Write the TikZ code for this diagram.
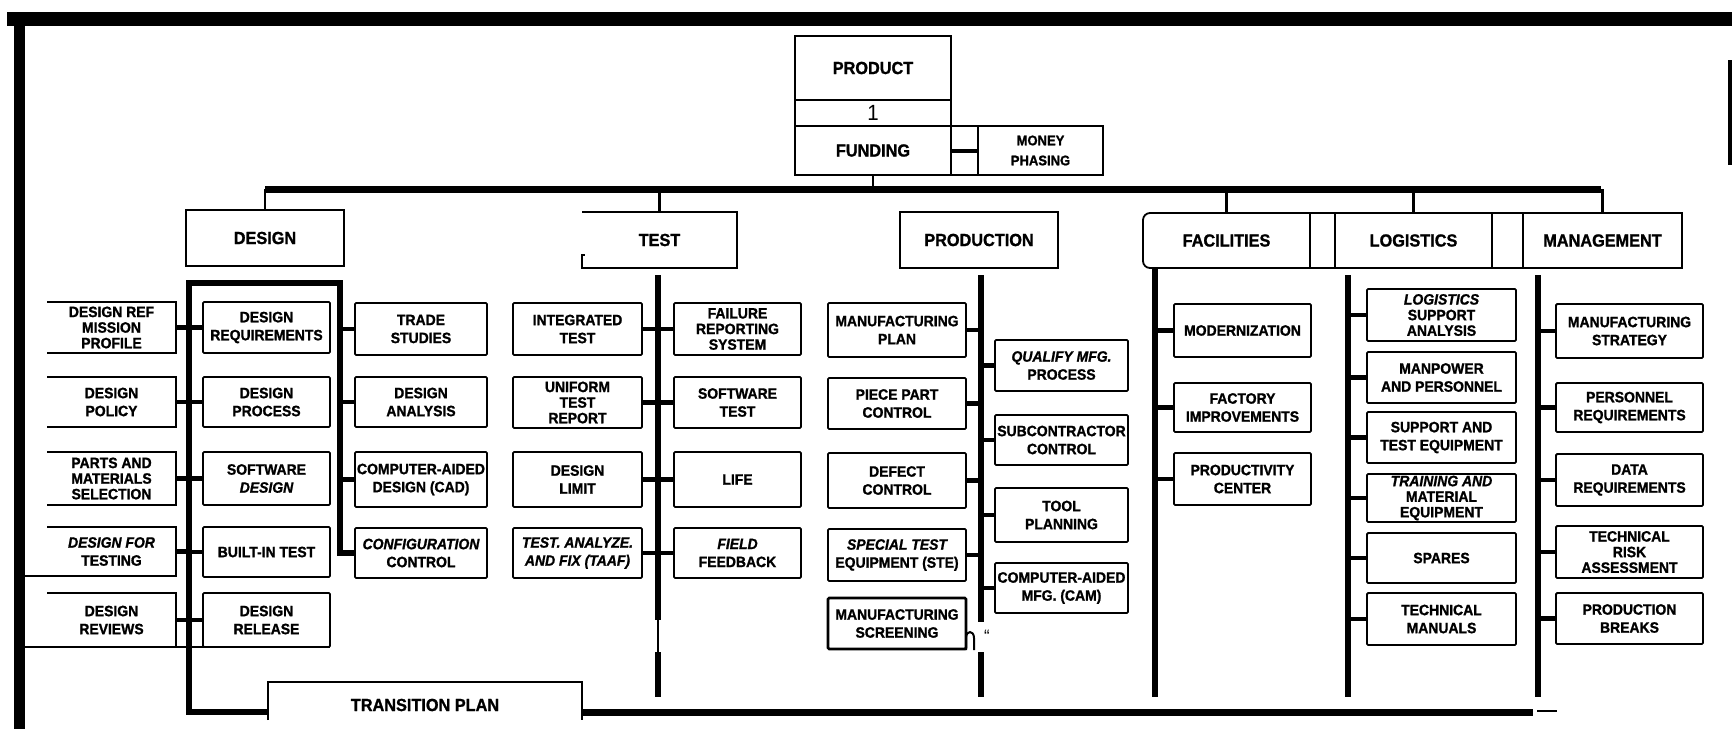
\documentclass[tikz,border=0pt]{standalone}
\usepackage{fontspec}
\setmainfont{Liberation Sans}[FakeStretch=0.93, BoldFeatures={FakeBold=1.2}, BoldItalicFeatures={FakeBold=1.2}]
\tikzset{
  bx/.style={draw, line width=1.8pt, rounded corners=1.2pt, inner sep=0pt, outer sep=0pt,
    align=center, anchor=north west, font=\bfseries\fontsize{15}{18}\selectfont},
  tri/.style={font=\bfseries\fontsize{15}{15.6}\selectfont},
  nodraw/.style={draw=none},
  hd/.style={draw, line width=1.8pt, inner sep=0pt, outer sep=0pt, align=center,
    anchor=north west, font=\bfseries\fontsize{17.5}{20}\selectfont},
  spine/.style={line width=5.5pt},
  conn/.style={line width=4.5pt},
  stub/.style={line width=2.5pt},
  thinln/.style={line width=1.8pt},
  barfill/.style={fill=black, draw=none, inner sep=0pt, outer sep=0pt, anchor=north west},
}
\newcommand\mkbox[7][]{\node[bx,#1,minimum width=#5pt,minimum height=#6pt] (#2) at (#3,#4) {#7};}
\begin{document}
\begin{tikzpicture}[x=1pt,y=-1pt]
\fill[white] (0,0) rectangle (1732,729);
\useasboundingbox (0,0) rectangle (1732,729);

% frame bars
\node[barfill, minimum width=1725pt, minimum height=14pt] (tbar) at (7,12) {};
\node[barfill, minimum width=11pt, minimum height=703pt] (lbar) at (14,26) {};
\node[barfill, minimum width=4pt, minimum height=105pt] (rbar) at (1728,60) {};

% top: product / funding
\node[hd, minimum width=156pt, minimum height=64pt] (prod) at (795,36) {PRODUCT};
\node[hd, minimum width=156pt, minimum height=26pt, font=\fontsize{22}{22}\selectfont] (one) at (795,100) {1};
\node[hd, minimum width=156pt, minimum height=49pt] (fund) at (795,126) {FUNDING};
\node[hd, minimum width=125pt, minimum height=49pt, font=\bfseries\fontsize{14}{20}\selectfont] (money) at (978,126) {MONEY\\PHASING};
\draw[thinln] (fund.north east) -- (money.north west);
\draw[thinln] (fund.south east) -- (money.south west);
\draw[line width=4pt] (fund.east) -- (money.west);

% main bar
\coordinate (barL) at (265,189);
\coordinate (barR) at (1601,189);
\draw[line width=7pt] (barL) -- (barR);

% headings
\node[hd, minimum width=158pt, minimum height=56pt] (des) at (186,210) {DESIGN};
\node[hd, nodraw, minimum width=155pt, minimum height=56pt] (tst) at (582,212) {TEST};
\draw[thinln] (tst.north west) -- (tst.north east) -- (tst.south east) -- (tst.south west) -- ++(0,-13) -- ++(3,0);
\node[hd, minimum width=158pt, minimum height=56pt] (prd) at (900,212) {PRODUCTION};
\node[hd, nodraw, minimum width=167pt, minimum height=55pt] (fac) at (1143,213) {FACILITIES};
\draw[thinln, rounded corners=7pt] (fac.north east) -- (fac.north west) -- (fac.south west) -- (fac.south east);
\draw[thinln] (fac.north east) -- (fac.south east);
\node[hd, minimum width=157pt, minimum height=55pt] (log) at (1335,213) {LOGISTICS};
\node[hd, minimum width=159pt, minimum height=55pt] (mgt) at (1523,213) {MANAGEMENT};
\draw[thinln] (fac.north east) -- (log.north west);
\draw[thinln] (fac.south east) -- (log.south west);
\draw[thinln] (log.north east) -- (mgt.north west);
\draw[thinln] (log.south east) -- (mgt.south west);

% stubs from main bar
\draw[stub] (fund.south) -- (fund.south |- barL);
\draw[stub] (des.north) -- (des.north |- barL);
\draw[stub] (tst.north) -- (tst.north |- barL);
\draw[stub] (fac.north) -- (fac.north |- barL);
\draw[stub] (log.north) -- (log.north |- barL);
\draw[stub] (mgt.north) -- (mgt.north |- barL);

% ---------- DESIGN column ----------
\mkbox[tri,nodraw]{dl1}{47}{302}{129}{51}{DESIGN REF\\MISSION\\PROFILE}
\mkbox[nodraw]{dl2}{47}{377}{129}{50}{DESIGN\\POLICY}
\mkbox[tri,nodraw]{dl3}{47}{452}{129}{53}{PARTS AND\\MATERIALS\\SELECTION}
\mkbox[nodraw]{dl4}{47}{527}{129}{49}{{\itshape DESIGN FOR}\\TESTING}
\mkbox[nodraw]{dl5}{47}{593}{129}{54}{DESIGN\\REVIEWS}
\foreach \n in {dl1,dl2,dl3,dl4,dl5} {\draw[thinln] (\n.north west) -- (\n.north east) -- (\n.south east) -- (\n.south west);}

\mkbox{dm1}{203}{302}{127}{51}{DESIGN\\REQUIREMENTS}
\mkbox{dm2}{203}{377}{127}{50}{DESIGN\\PROCESS}
\mkbox{dm3}{203}{452}{127}{53}{SOFTWARE\\{\itshape DESIGN}}
\mkbox{dm4}{203}{527}{127}{50}{BUILT-IN TEST}
\mkbox{dm5}{203}{593}{127}{54}{DESIGN\\RELEASE}

\mkbox{dr1}{355}{303}{132}{52}{TRADE\\STUDIES}
\mkbox{dr2}{355}{377}{132}{50}{DESIGN\\ANALYSIS}
\mkbox{dr3}{355}{452}{132}{55}{COMPUTER-AIDED\\DESIGN (CAD)}
\mkbox{dr4}{355}{528}{132}{50}{{\itshape CONFIGURATION}\\CONTROL}

\draw[thinln] (dl4.south west -| lbar.east) -- (dl4.south west);
\draw[thinln] (dl5.south west -| lbar.east) -- (dm5.south east);

\node[anchor=north west, minimum width=314pt, minimum height=46pt, inner sep=0pt, outer sep=0pt,
  font=\bfseries\fontsize{17.5}{20}\selectfont] (tp) at (268,682) {TRANSITION PLAN};
\draw[thinln] ([yshift=-15pt]tp.west) -- (tp.north west) -- (tp.north east) -- ([yshift=-15pt]tp.east);

\coordinate (dfl) at (189,283);
\coordinate (dfr) at (340,283);
\draw[spine, line join=miter] (dr4.west) -| (dfr) -- (dfl) |- ([yshift=-7pt]tp.west);
\foreach \n in {dl1,dl2,dl3,dl4,dl5} {\draw[conn] (\n.east) -- (\n.east -| dfl);}
\foreach \n in {dm1,dm2,dm3,dm4,dm5} {\draw[conn] (\n.west) -- (\n.west -| dfl);}
\foreach \n in {dr1,dr2,dr3} {\draw[conn] (\n.west) -- (\n.west -| dfr);}

\coordinate (bend) at (1533,712);
\coordinate (dash1) at (1537,711);
\coordinate (dash2) at (1557,711);
\draw[line width=7pt] ([yshift=-7pt]tp.east) -- (bend);
\draw[line width=2pt] (dash1) -- (dash2);

% ---------- TEST column ----------
\mkbox{tl1}{513}{303}{129}{52}{INTEGRATED\\TEST}
\mkbox[tri]{tl2}{513}{377}{129}{51}{UNIFORM\\TEST\\REPORT}
\mkbox{tl3}{513}{452}{129}{55}{DESIGN\\LIMIT}
\mkbox{tl4}{513}{528}{129}{50}{{\itshape TEST. ANALYZE.}\\{\itshape AND FIX (TAAF)}}
\mkbox[tri]{tr1}{674}{303}{127}{52}{FAILURE\\REPORTING\\SYSTEM}
\mkbox{tr2}{674}{377}{127}{51}{SOFTWARE\\TEST}
\mkbox{tr3}{674}{452}{127}{55}{LIFE}
\mkbox{tr4}{674}{528}{127}{50}{{\itshape FIELD}\\FEEDBACK}
\coordinate (ts) at (658,275);
\coordinate (tm1) at (658,620);
\coordinate (tm2) at (658,652);
\coordinate (te) at (658,697);
\draw[spine] (ts) -- (tm1);
\draw[line width=1.5pt] (tm1) -- (tm2);
\draw[spine] (tm2) -- (te);
\foreach \n in {tl1,tl2,tl3,tl4} {\draw[conn] (\n.east) -- (\n.east -| ts);}
\foreach \n in {tr1,tr2,tr3,tr4} {\draw[conn] (\n.west) -- (\n.west -| ts);}

% ---------- PRODUCTION column ----------
\mkbox{pl1}{828}{303}{138}{54}{MANUFACTURING\\PLAN}
\mkbox{pl2}{828}{378}{138}{51}{PIECE PART\\CONTROL}
\mkbox{pl3}{828}{453}{138}{55}{DEFECT\\CONTROL}
\mkbox{pl4}{828}{529}{138}{52}{{\itshape SPECIAL TEST}\\EQUIPMENT (STE)}
\mkbox[line width=2.6pt]{pl5}{828}{598}{138}{51}{MANUFACTURING\\SCREENING}
\mkbox{pr1}{995}{340}{133}{51}{{\itshape QUALIFY MFG.}\\PROCESS}
\mkbox{pr2}{995}{415}{133}{50}{SUBCONTRACTOR\\CONTROL}
\mkbox{pr3}{995}{488}{133}{54}{TOOL\\PLANNING}
\mkbox{pr4}{995}{563}{133}{50}{COMPUTER-AIDED\\MFG. (CAM)}
\coordinate (ps) at (981,275);
\coordinate (pm1) at (981,622);
\coordinate (pm2) at (981,652);
\coordinate (pe) at (981,697);
\draw[spine] (ps) -- (pm1);
\draw[spine] (pm2) -- (pe);
\foreach \n in {pl1,pl2,pl3,pl4} {\draw[conn] (\n.east) -- (\n.east -| ps);}
\foreach \n in {pr1,pr2,pr3,pr4} {\draw[conn] (\n.west) -- (\n.west -| ps);}
\draw[line width=2pt] ([yshift=-1pt]pl5.south east) -- ++(0,-12) .. controls +(0,-8) and +(0,-8) .. ++(8,0) -- ++(0,12);
\node[inner sep=0pt, font=\fontsize{18}{18}\selectfont] (qm) at (987,636) {“};

% ---------- FACILITIES column ----------
\mkbox{f1}{1174}{304}{137}{53}{MODERNIZATION}
\mkbox{f2}{1174}{383}{137}{49}{FACTORY\\IMPROVEMENTS}
\mkbox{f3}{1174}{453}{137}{52}{PRODUCTIVITY\\CENTER}
\coordinate (fs) at (1155,268);
\coordinate (fe) at (1155,697);
\draw[spine] (fs) -- (fe);
\foreach \n in {f1,f2,f3} {\draw[conn] (\n.west) -- (\n.west -| fs);}

% ---------- LOGISTICS column ----------
\mkbox[tri]{g1}{1367}{289}{149}{52}{{\itshape LOGISTICS}\\SUPPORT\\ANALYSIS}
\mkbox{g2}{1367}{352}{149}{51}{MANPOWER\\AND PERSONNEL}
\mkbox{g3}{1367}{412}{149}{51}{SUPPORT AND\\TEST EQUIPMENT}
\mkbox[tri]{g4}{1367}{474}{149}{48}{{\itshape TRAINING AND}\\MATERIAL\\EQUIPMENT}
\mkbox{g5}{1367}{533}{149}{50}{SPARES}
\mkbox{g6}{1367}{593}{149}{52}{TECHNICAL\\MANUALS}
\coordinate (gs) at (1348,275);
\coordinate (ge) at (1348,697);
\draw[spine] (gs) -- (ge);
\foreach \n in {g1,g2,g3,g4,g5,g6} {\draw[conn] (\n.west) -- (\n.west -| gs);}

% ---------- MANAGEMENT column ----------
\mkbox{m1}{1556}{304}{147}{54}{MANUFACTURING\\STRATEGY}
\mkbox{m2}{1556}{383}{147}{49}{PERSONNEL\\REQUIREMENTS}
\mkbox{m3}{1556}{454}{147}{52}{DATA\\REQUIREMENTS}
\mkbox[tri]{m4}{1556}{526}{147}{52}{TECHNICAL\\RISK\\ASSESSMENT}
\mkbox{m5}{1556}{593}{147}{51}{PRODUCTION\\BREAKS}
\coordinate (ms) at (1538,275);
\coordinate (me) at (1538,697);
\draw[spine] (ms) -- (me);
\foreach \n in {m1,m2,m3,m4,m5} {\draw[conn] (\n.west) -- (\n.west -| ms);}
\end{tikzpicture}
\end{document}
